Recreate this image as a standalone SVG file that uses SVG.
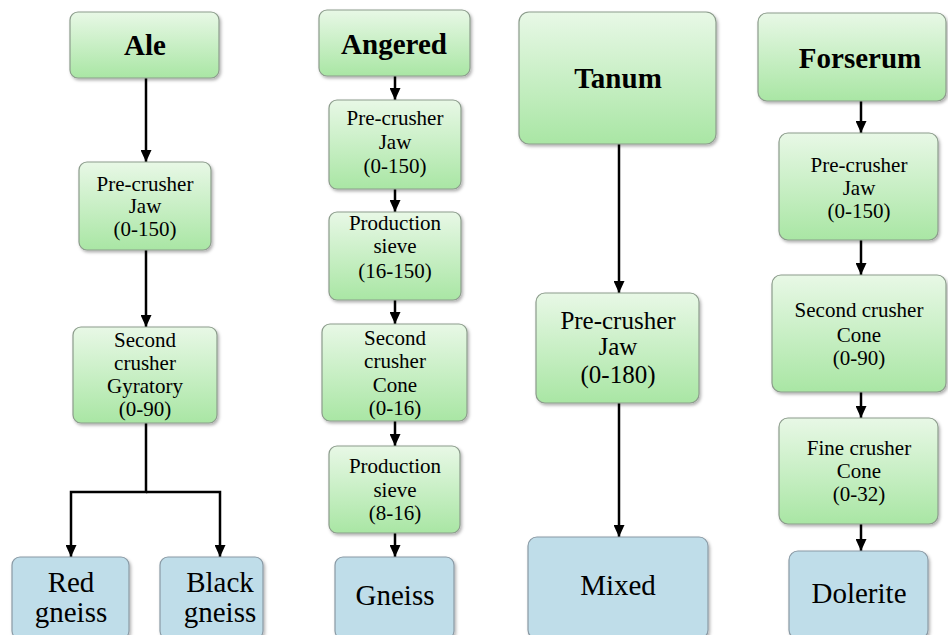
<svg xmlns="http://www.w3.org/2000/svg" width="948" height="635" viewBox="0 0 948 635">
<defs>
<linearGradient id="gg" x1="0" y1="0" x2="0" y2="1">
<stop offset="0" stop-color="#e8f8e6"/>
<stop offset="1" stop-color="#a9e6a4"/>
</linearGradient>
<filter id="sh" x="-10%" y="-10%" width="125%" height="130%">
<feDropShadow dx="1.5" dy="2" stdDeviation="1.5" flood-color="#000" flood-opacity="0.3"/>
</filter>
<marker id="ah" markerUnits="userSpaceOnUse" markerWidth="12" markerHeight="11" refX="12" refY="5.5" orient="auto">
<path d="M0,0 L12,5.5 L0,11 Z" fill="#000"/>
</marker>
</defs>
<style>
.g{fill:url(#gg);stroke:#8c9c8c;stroke-width:1.2;filter:url(#sh)}
.b{fill:#bfdde9;stroke:#8a9aa5;stroke-width:1.2;filter:url(#sh)}
text{fill:#000;text-anchor:middle;font-family:Liberation Serif,DejaVu Serif,Noto Serif,Tinos,FreeSerif,Times New Roman,Times,serif}
.t{font-weight:bold;font-size:29px}
.s{font-size:21px}
.m{font-size:25px}
.p{font-size:29px}
.c{fill:none;stroke:#000;stroke-width:2.5}
</style>
<g id="connectors">
<line class="c" x1="146" y1="78" x2="146" y2="162" marker-end="url(#ah)"/>
<line class="c" x1="146" y1="250" x2="146" y2="327" marker-end="url(#ah)"/>
<polyline class="c" points="146,423 146,492 71,492 71,557" marker-end="url(#ah)"/>
<polyline class="c" points="146,492 220,492 220,557" marker-end="url(#ah)"/>
<line class="c" x1="395" y1="76" x2="395" y2="100" marker-end="url(#ah)"/>
<line class="c" x1="395" y1="189" x2="395" y2="212" marker-end="url(#ah)"/>
<line class="c" x1="395" y1="300" x2="395" y2="324" marker-end="url(#ah)"/>
<line class="c" x1="395" y1="421" x2="395" y2="446" marker-end="url(#ah)"/>
<line class="c" x1="395" y1="533" x2="395" y2="557" marker-end="url(#ah)"/>
<line class="c" x1="619" y1="144" x2="619" y2="293" marker-end="url(#ah)"/>
<line class="c" x1="619" y1="403" x2="619" y2="537" marker-end="url(#ah)"/>
<line class="c" x1="861" y1="101" x2="861" y2="133" marker-end="url(#ah)"/>
<line class="c" x1="861" y1="240" x2="861" y2="275" marker-end="url(#ah)"/>
<line class="c" x1="861" y1="392" x2="861" y2="418" marker-end="url(#ah)"/>
<line class="c" x1="861" y1="524" x2="861" y2="551" marker-end="url(#ah)"/>
</g>
<g id="ale">
<rect class="g" x="70" y="12" width="149" height="66" rx="8"/>
<text class="t" x="145" y="55">Ale</text>
</g>
<g id="ale-pre">
<rect class="g" x="79" y="162" width="132" height="88" rx="8"/>
<text class="s" x="145" y="191">Pre-crusher</text>
<text class="s" x="145" y="213">Jaw</text>
<text class="s" x="145" y="236">(0-150)</text>
</g>
<g id="ale-second">
<rect class="g" x="73" y="327" width="144" height="96" rx="8"/>
<text class="s" x="145" y="347">Second</text>
<text class="s" x="145" y="370">crusher</text>
<text class="s" x="145" y="393">Gyratory</text>
<text class="s" x="145" y="416">(0-90)</text>
</g>
<g id="red-gneiss">
<rect class="b" x="12" y="557" width="117" height="82" rx="8"/>
<text class="p" x="71" y="592">Red</text>
<text class="p" x="71" y="622">gneiss</text>
</g>
<g id="black-gneiss">
<rect class="b" x="160" y="557" width="103" height="82" rx="8"/>
<text class="p" x="220" y="592">Black</text>
<text class="p" x="220" y="622">gneiss</text>
</g>
<g id="angered">
<rect class="g" x="319" y="10" width="151" height="66" rx="8"/>
<text class="t" x="394" y="54">Angered</text>
</g>
<g id="angered-pre">
<rect class="g" x="329" y="100" width="132" height="89" rx="8"/>
<text class="s" x="395" y="125">Pre-crusher</text>
<text class="s" x="395" y="149">Jaw</text>
<text class="s" x="395" y="173">(0-150)</text>
</g>
<g id="angered-sieve1">
<rect class="g" x="329" y="212" width="132" height="88" rx="8"/>
<text class="s" x="395" y="230">Production</text>
<text class="s" x="395" y="253">sieve</text>
<text class="s" x="395" y="278">(16-150)</text>
</g>
<g id="angered-second">
<rect class="g" x="322" y="324" width="145" height="97" rx="8"/>
<text class="s" x="395" y="345">Second</text>
<text class="s" x="395" y="368">crusher</text>
<text class="s" x="395" y="392">Cone</text>
<text class="s" x="395" y="415">(0-16)</text>
</g>
<g id="angered-sieve2">
<rect class="g" x="329" y="446" width="131" height="87" rx="8"/>
<text class="s" x="395" y="473">Production</text>
<text class="s" x="395" y="497">sieve</text>
<text class="s" x="395" y="520">(8-16)</text>
</g>
<g id="gneiss">
<rect class="b" x="335" y="557" width="119" height="82" rx="8"/>
<text class="p" x="395" y="605">Gneiss</text>
</g>
<g id="tanum">
<rect class="g" x="519" y="12" width="197" height="132" rx="10"/>
<text class="t" x="618" y="88">Tanum</text>
</g>
<g id="tanum-pre">
<rect class="g" x="536" y="293" width="163" height="110" rx="9"/>
<text class="m" x="618" y="329">Pre-crusher</text>
<text class="m" x="618" y="355">Jaw</text>
<text class="m" x="618" y="383">(0-180)</text>
</g>
<g id="mixed">
<rect class="b" x="528" y="537" width="180" height="102" rx="9"/>
<text class="p" x="618" y="595">Mixed</text>
</g>
<g id="forserum">
<rect class="g" x="758" y="13" width="188" height="88" rx="9"/>
<text class="t" x="860" y="68">Forserum</text>
</g>
<g id="forserum-pre">
<rect class="g" x="779" y="133" width="159" height="107" rx="9"/>
<text class="s" x="859" y="172">Pre-crusher</text>
<text class="s" x="859" y="195">Jaw</text>
<text class="s" x="859" y="218">(0-150)</text>
</g>
<g id="forserum-second">
<rect class="g" x="772" y="275" width="174" height="117" rx="9"/>
<text class="s" x="859" y="317">Second crusher</text>
<text class="s" x="859" y="342">Cone</text>
<text class="s" x="859" y="365">(0-90)</text>
</g>
<g id="forserum-fine">
<rect class="g" x="779" y="418" width="159" height="106" rx="9"/>
<text class="s" x="859" y="455">Fine crusher</text>
<text class="s" x="859" y="478">Cone</text>
<text class="s" x="859" y="501">(0-32)</text>
</g>
<g id="dolerite">
<rect class="b" x="789" y="551" width="139" height="88" rx="9"/>
<text class="p" x="859" y="603">Dolerite</text>
</g>
</svg>
